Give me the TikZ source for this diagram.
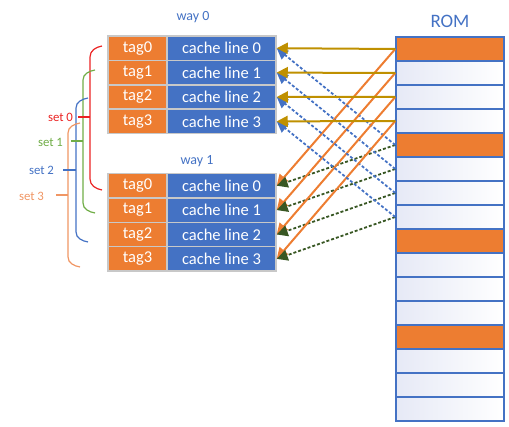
\documentclass[tikz,border=0pt]{standalone}
\usepackage{fontspec}
\setmainfont{Carlito}
\usetikzlibrary{arrows.meta}

\definecolor{offorange}{RGB}{237,125,49}
\definecolor{offblue}{RGB}{68,114,196}
\definecolor{offgold}{RGB}{191,144,0}
\definecolor{offgreen}{RGB}{56,87,35}
\definecolor{cellgray}{RGB}{200,200,200}
\definecolor{romwhite}{RGB}{230,233,246}
\definecolor{setzero}{RGB}{235,35,35}
\definecolor{setone}{RGB}{112,173,71}
\definecolor{settwo}{RGB}{68,114,196}
\definecolor{setthree}{RGB}{240,150,100}

\begin{document}
\begin{tikzpicture}[
  x=1pt, y=-1pt,
  every node/.style = {
    inner sep=0pt,
    font=\fontsize{16.5}{18}\selectfont
  },
  tagcell/.style = {draw=cellgray, line width=1.5pt, fill=offorange, text=white,
    minimum width=59pt, minimum height=24.4pt},
  linecell/.style = {draw=cellgray, line width=1.5pt, fill=offblue, text=white,
    minimum width=109pt, minimum height=24.4pt},
  romrow/.style = {draw=offblue, line width=1.5pt, minimum width=108pt,
    minimum height=24pt, left color=romwhite, right color=white},
  romhit/.style = {draw=offblue, line width=1.5pt, minimum width=108pt,
    minimum height=24pt, fill=offorange},
  title/.style = {text=offblue, font=\fontsize{14}{16}\selectfont},
  setlabel/.style = {font=\fontsize{12.8}{14}\selectfont},
  arrow/.style = {-{Triangle[length=11pt, width=11pt]}},
  direct/.style = {arrow, line width=2pt},
  dots/.style = {arrow, line width=1.8pt, dash pattern=on 3pt off 2pt},
  bracket/.style = {line width=1.2pt}
]
\useasboundingbox (0,0) rectangle (509,427);

% Cache, way 0 and way 1
\node[title] (way0) at (193,17) {way 0};
\node[title] (way1) at (197,161) {way 1};
\foreach \i in {0,...,3} {
  \node[tagcell] (tagA\i) at (137.5,{48.2+24.4*\i}) {tag\i};
  \node[linecell] (lineA\i) at (221.5,{48.2+24.4*\i}) {cache line \i};
  \node[tagcell] (tagB\i) at (137.5,{185.7+24.4*\i}) {tag\i};
  \node[linecell] (lineB\i) at (221.5,{185.7+24.4*\i}) {cache line \i};
}

% ROM blocks
\node[title, font=\fontsize{19}{21}\selectfont] (romtitle) at (450,21) {ROM};
\foreach \r in {1,2,3,5,6,7,9,10,11,13,14,15}
  \node[romrow] (rom\r) at (450,{49+24*\r}) {};
\foreach \r in {0,4,8,12}
  \node[romhit] (rom\r) at (450,{49+24*\r}) {};

% Mapping of ROM blocks onto the cache lines
\foreach \i in {0,...,3} {
  \pgfmathtruncatemacro\j{\i+4}
  \draw[direct, offorange] (rom\i.west) -- (lineB\i.east);
  \draw[dots, offgreen] (rom\j.west) -- (lineB\i.east);
  \draw[dots, offblue] (rom\j.west) -- (lineA\i.east);
  \draw[direct, offgold] (rom\i.west) -- (lineA\i.east);
}

% Sets (left brackets)
\draw[bracket, setzero] (102,46) to[out=190, in=90] (90,57) -- (90,179) to[out=-90, in=170] (102,190);
\draw[bracket, setone] (95,70) to[out=190, in=90] (83,80) -- (83,203) to[out=-90, in=170] (95,213);
\draw[bracket, settwo] (88,98) to[out=190, in=90] (76,108) -- (76,232) to[out=-90, in=170] (88,242);
\draw[bracket, setthree] (80,123) to[out=190, in=90] (68,133) -- (68,257) to[out=-90, in=170] (80,267);

\node[setlabel, text=setzero] (set0) at (60.5,117) {set 0};
\node[setlabel, text=setone] (set1) at (50.5,142) {set 1};
\node[setlabel, text=settwo] (set2) at (41.5,170) {set 2};
\node[setlabel, text=setthree] (set3) at (31.5,196) {set 3};
\draw[bracket, setzero] (78,117) -- (90,117);
\draw[bracket, setone] (71,141) -- (83,141);
\draw[bracket, settwo] (63,170) -- (76,170);
\draw[bracket, setthree] (56,195) -- (68,195);

\end{tikzpicture}
\end{document}
